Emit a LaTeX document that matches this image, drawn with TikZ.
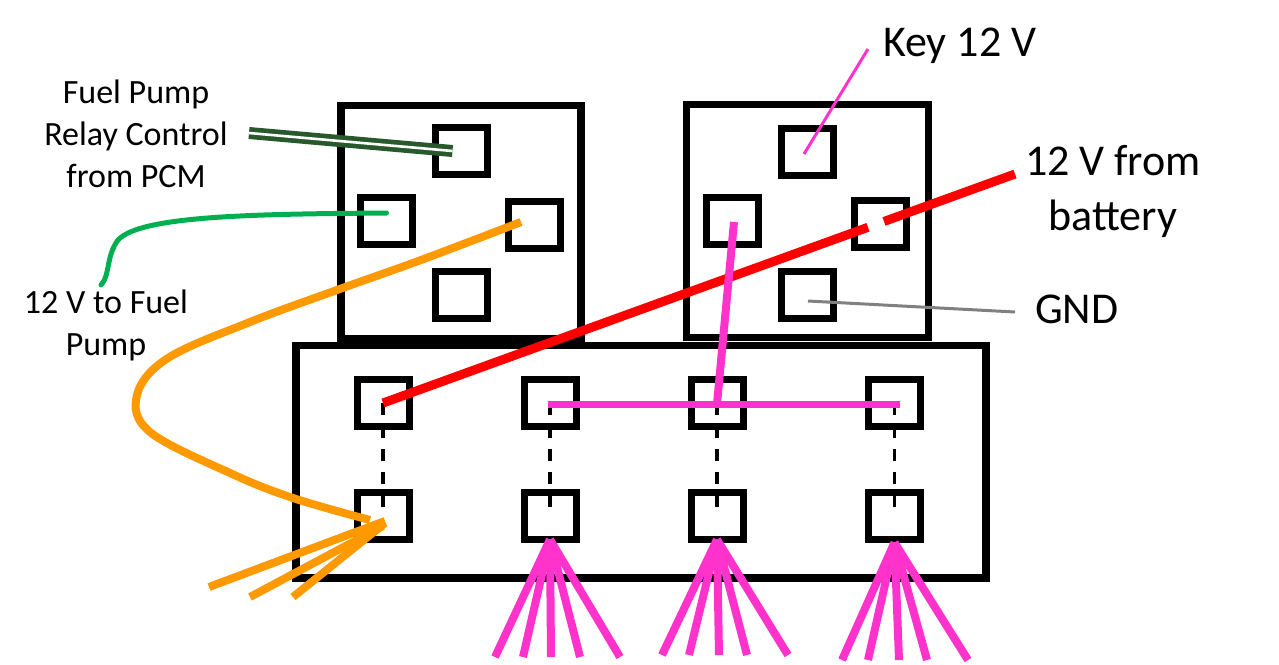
\documentclass[tikz,border=0pt]{standalone}
\usepackage{fontspec}
\setmainfont{Carlito}
\usetikzlibrary{calc}
\definecolor{wpink}{RGB}{255,51,204}
\definecolor{worange}{RGB}{255,153,0}
\definecolor{wred}{RGB}{255,0,0}
\definecolor{wgreen}{RGB}{0,176,80}
\definecolor{wdkgreen}{RGB}{39,89,45}
\definecolor{wgrey}{RGB}{128,128,128}
\tikzset{
  housing/.style={draw=black,line width=7.5pt,inner sep=0pt,outer sep=0pt,anchor=north west},
  term/.style={draw=black,line width=7pt,minimum width=52pt,minimum height=47pt,inner sep=0pt,outer sep=0pt},
  bridge/.style={draw=black,line width=3.5pt,dash pattern=on 12pt off 11pt},
  pinkw/.style={draw=wpink,line width=8pt},
  orangew/.style={draw=worange,line width=8pt},
  smalllbl/.style={font=\fontsize{34}{42}\selectfont,align=center,inner sep=0pt},
  biglbl/.style={font=\fontsize{44}{55}\selectfont,align=center,inner sep=0pt},
}
\begin{document}
\begin{tikzpicture}[x=1pt,y=-1pt]
\useasboundingbox (0,0) rectangle (1279,664);
\fill[white] (0,0) rectangle (1279,664);
% housings
\node[housing,minimum width=690pt,minimum height=232.5pt] (conn) at (296,345.5) {};
\node[housing,minimum width=240pt,minimum height=233pt] (relL) at (341,105.5) {};
\node[housing,minimum width=242pt,minimum height=233pt] (relR) at (686.5,104.5) {};
% relay terminals
\node[term] (tLt) at (461.5,151) {};
\node[term] (tLl) at (386.5,221) {};
\node[term] (tLr) at (534,224.5) {};
\node[term] (tLb) at (461,294.5) {};
\node[term] (tRt) at (807.5,151.5) {};
\node[term] (tRl) at (732.5,220.5) {};
\node[term] (tRr) at (880,224) {};
\node[term] (tRb) at (807,294.5) {};
% connector terminals
\foreach \i/\x in {1/383,2/550,3/717,4/894.5}{
  \node[term] (c\i t) at (\x,403) {};
  \node[term] (c\i b) at (\x,516) {};
}
% dashed bridges
\foreach \i in {1,2,3,4}{
  \draw[bridge] (c\i t.center) -- (c\i b.center);
}
% free ends
\coordinate (pcm) at (249,133);
\coordinate (pump) at (101,285);
\coordinate (batt) at (1015,174);
\coordinate (key) at (868,49);
\coordinate (gnd) at (1015,312);
% dark green double wire
\draw[draw=wdkgreen,line width=12pt] (pcm) -- ([xshift=-9pt]tLt.center);
\draw[draw=white,line width=2.6pt] (pcm) -- ([xshift=-9pt]tLt.center);
% green wire
\draw[wgreen,line width=5pt,line cap=round] ([yshift=8pt]tLl.center) .. controls (250,214) and (140,216) .. (118,240) .. controls (106,256) and (110,276) .. (pump);
% orange wire
\draw[orangew] plot[smooth,tension=0.6] coordinates {([xshift=-13pt,yshift=2.5pt]tLr.center) (421,260) (337,290) (250,322) (168,358) (137,395) (150,432) (230,473) (293,498) (370,520)};
\draw[orangew] ([xshift=2pt,yshift=-5pt]c1b.center) -- (209,587);
\draw[orangew] ([xshift=0pt,yshift=-10pt]c1b.center) -- (250,597);
\draw[orangew] ([xshift=2pt,yshift=-7pt]c1b.center) -- (293,597);
% red wire with gap
\draw[wred,line width=9pt] (c1t.center) -- ($(c1t.center)!0.7674!(batt)$);
\draw[wred,line width=9pt] ($(c1t.center)!0.7927!(batt)$) -- (batt);
% pink wires
\draw[wpink,line width=3pt] ([xshift=-3.5pt,yshift=-2.5pt]tRt.center) -- (key);
\draw[pinkw] ([xshift=1.5pt,yshift=-1.5pt]tRl.center) -- ([yshift=-1pt]c3t.center);
\draw[pinkw,line width=7pt] ([xshift=-2pt,yshift=-1pt]c2t.center) -- ([xshift=5.5pt,yshift=-1pt]c4t.center);
\foreach \e in {495,523,551,580,620}{ \draw[pinkw] (c2b.south) -- (\e,657); }
\foreach \e in {662,689,719,747,788}{ \draw[pinkw] (c3b.south) -- (\e,655); }
\foreach \e in {842,868,899,927,968}{ \draw[pinkw] ([yshift=-3pt]c4b.south) -- (\e,660); }
% grey GND wire
\draw[wgrey,line width=3pt] ([xshift=1pt,yshift=-6.5pt]tRb.center) -- (gnd);
% labels (base anchor = baseline of last line)
\node[smalllbl,anchor=base] (lpcm) at (136,187) {Fuel Pump\\Relay Control\\from PCM};
\node[smalllbl,anchor=base] (lpump) at (106,355) {12 V to Fuel\\Pump};
\node[biglbl,anchor=base west] (lkey) at (883,56) {Key 12 V};
\node[biglbl,anchor=base] (lbatt) at (1113,230) {12 V from\\battery};
\node[biglbl,anchor=base west] (lgnd) at (1035,323) {GND};
\end{tikzpicture}
\end{document}
